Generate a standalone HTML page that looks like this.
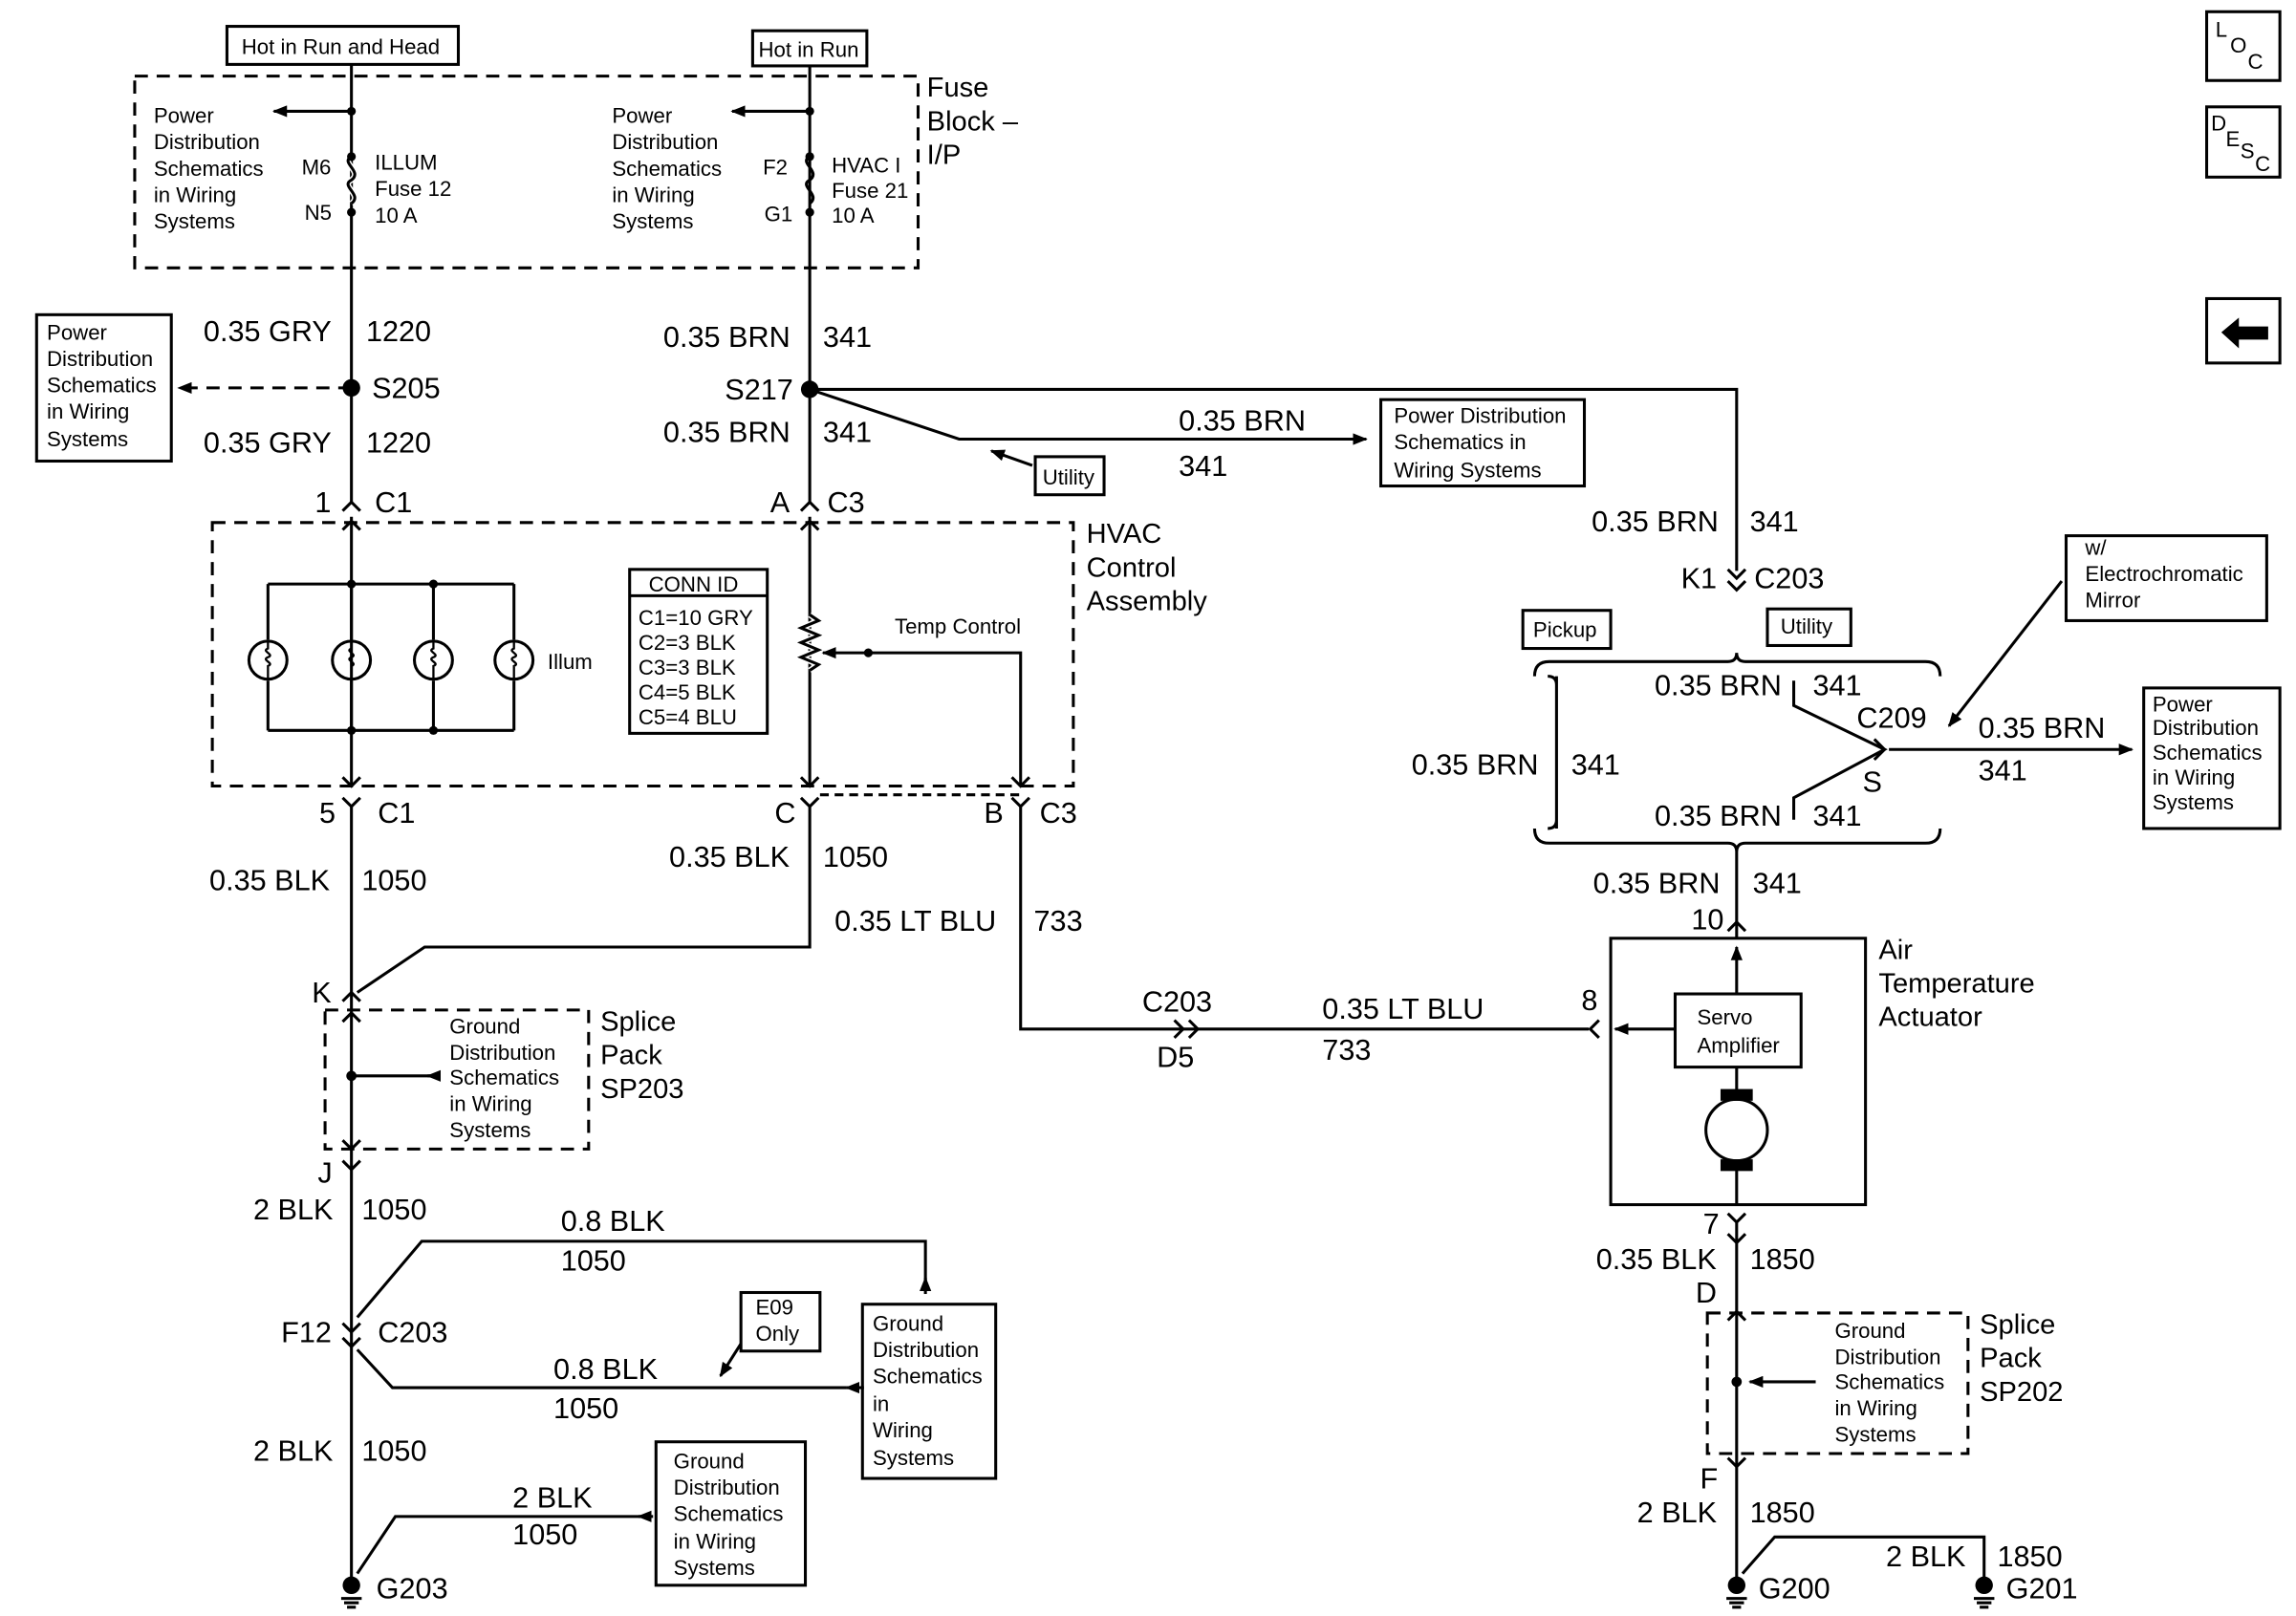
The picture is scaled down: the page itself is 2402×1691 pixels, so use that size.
<!DOCTYPE html>
<html><head><meta charset="utf-8"><style>
html,body{margin:0;padding:0;background:#fff}
svg{display:block}
text{font-family:"Liberation Sans",Arial,sans-serif;fill:#000}
.w{font-size:20px}.s{font-size:14.5px}.m{font-size:19px}
</style></head><body>
<svg width="2402" height="1691" viewBox="0 0 1568 1104" preserveAspectRatio="none" xmlns="http://www.w3.org/2000/svg">
<defs><marker id="a" markerWidth="10" markerHeight="8" refX="9" refY="4" orient="auto" markerUnits="userSpaceOnUse"><path d="M0,0 L10,4 L0,8z"/></marker></defs>
<g stroke="#000" stroke-width="2" fill="none">
<rect x="155" y="18" width="158" height="26"/><rect x="514" y="21" width="78" height="24"/>
<rect x="92" y="52" width="535" height="131" stroke-dasharray="9,6"/>
<path d="M240 44V343M553 45V343"/>
<path d="M240 76H187" marker-end="url(#a)"/>
<path d="M553 76H500" marker-end="url(#a)"/>
<path d="M240 107c-8 4 8 10 0 16c-8 4 8 10 0 16" stroke="#fff" stroke-width="4"/>
<path d="M240 107c-8 4 8 10 0 16c-8 4 8 10 0 16M553 107c-8 4 8 10 0 16c-8 4 8 10 0 16"/>
<rect x="25" y="215" width="92" height="100"/>
<path d="M240 265H122" stroke-dasharray="9,6" marker-end="url(#a)"/>
<path d="M553 266H1186V390M553 266L655 300H933" />
<path d="M655 300H933" marker-end="url(#a)"/>
<rect x="943" y="273" width="139" height="59"/>
<rect x="707" y="312" width="47" height="26"/>
<path d="M705 318L677 308" marker-end="url(#a)"/>
<rect x="145" y="357" width="588" height="180" stroke-dasharray="9,6"/>
<path d="M183 399H351M183 499H351M183 399V437M240 399V437M296 399V437M351 399V437M183 465V499M240 465V499M296 465V499M351 465V499"/>
<circle cx="183" cy="451" r="13"/><circle cx="240" cy="451" r="13"/><circle cx="296" cy="451" r="13"/><circle cx="351" cy="451" r="13"/>
<g stroke-width="1.5">
<path d="M183 438v5c-5 2 5 4 0 6c-5 2 5 4 0 6v9M240 438v5c-5 2 5 4 0 6c-5 2 5 4 0 6v9M296 438v5c-5 2 5 4 0 6c-5 2 5 4 0 6v9M351 438v5c-5 2 5 4 0 6c-5 2 5 4 0 6v9"/>
</g>
<path d="M240 353V537M553 353V537"/>
<path d="M553 420l6 4l-12 5l12 5l-12 5l12 5l-12 5l12 5l-6 4" stroke="#fff" stroke-width="4"/>
<path d="M553 420l6 4l-12 5l12 5l-12 5l12 5l-12 5l12 5l-6 4"/>
<path d="M593 446H562" marker-end="url(#a)"/>
<path d="M593 446H697V537"/>
<rect x="430" y="389" width="94" height="112"/><path d="M430 407H524"/>
<path d="M560 543H697" stroke-dasharray="6,4"/>
<path d="M234 349l6-6l6 6M234 362l6-6l6 6M547 349l6-6l6 6M547 362l6-6l6 6M234 531l6 6l6-6M234 545l6 6l6-6M547 531l6 6l6-6M547 545l6 6l6-6M691 531l6 6l6-6M691 545l6 6l6-6"/>
<path d="M240 551V1080M553 551V647H290L244 678M697 551V703H1085"/>
<path d="M802 697l6 6l-6 6M812 697l6 6l-6 6M1092 697l-6 6l6 6"/>
<path d="M234 684l6-6l6 6M234 698l6-6l6 6M234 779l6 6l6-6M234 793l6 6l6-6"/>
<rect x="222" y="690" width="180" height="95" stroke-dasharray="9,6"/>
<path d="M300 735H240"/><path d="M300 735H292" marker-end="url(#a)"/>
<circle cx="240" cy="735" r="2.5" fill="#000"/>
<path d="M234 904l6 6l6-6M234 914l6 6l6-6"/>
<path d="M244 900L288 848H632V875M244 922L268 948H578"/>
<path d="M632 884V873" marker-end="url(#a)"/>
<path d="M590 948H578" marker-end="url(#a)"/>
<rect x="589" y="891" width="91" height="119"/>
<rect x="506" y="883" width="54" height="40"/>
<path d="M506 918L492 940" marker-end="url(#a)"/>
<path d="M244 1075L270 1036H438"/>
<path d="M446 1036H436" marker-end="url(#a)"/>
<rect x="448" y="985" width="102" height="98"/>
<path d="M1180 389l6 6l6-6M1180 397l6 6l6-6"/>
<rect x="1040" y="417" width="60" height="26"/><rect x="1207" y="416" width="57" height="25"/>
<path d="M1048 462q0-10 10-10H1180q6 0 6-6q0 6 6 6H1315q10 0 10 10"/>
<path d="M1048 566q0 10 10 10H1180q6 0 6 6q0-6 6-6H1315q10 0 10-10"/>
<path d="M1063 462V566M1057 462q6 0 6 6M1057 566q6 0 6-6"/>
<path d="M1225 465V482L1287 512L1225 545V560"/>
<path d="M1280 505l7 7l-7 7M1290 512H1456" marker-end="url(#a)"/>
<rect x="1464" y="470" width="93" height="96"/>
<rect x="1411" y="366" width="137" height="58"/>
<path d="M1408 397L1331 496" marker-end="url(#a)"/>
<path d="M1186 582V641"/><path d="M1180 636l6-6l6 6"/>
<rect x="1100" y="641" width="174" height="182"/>
<rect x="1144" y="679" width="86" height="50"/>
<path d="M1186 679V647" marker-end="url(#a)"/>
<path d="M1144 703H1103" marker-end="url(#a)"/>
<path d="M1186 729V745M1186 799V823"/>
<circle cx="1186" cy="772" r="21"/>
<rect x="1176" y="745" width="20" height="6" fill="#000"/><rect x="1176" y="793" width="20" height="6" fill="#000"/>
<path d="M1180 829l6 6l6-6M1180 843l6 6l6-6M1186 835V1080"/>
<path d="M1180 902l6-6l6 6M1180 996l6 6l6-6"/>
<rect x="1166" y="897" width="178" height="96" stroke-dasharray="9,6"/>
<path d="M1240 944H1195" marker-end="url(#a)"/><circle cx="1186" cy="944" r="2.5" fill="#000"/>
<path d="M1190 1075L1212 1050H1355V1080"/>
<path d="M233 1092h14M235 1095h10M237 1098h6M1179 1092h14M1181 1095h10M1183 1098h6M1348 1092h14M1350 1095h10M1352 1098h6"/>
<rect x="1507" y="8" width="50" height="47"/><rect x="1507" y="73" width="50" height="48"/><rect x="1507" y="204" width="50" height="44"/>
</g>
<g fill="#000">
<circle cx="240" cy="76" r="3"/><circle cx="553" cy="76" r="3"/>
<circle cx="240" cy="107" r="3"/><circle cx="240" cy="145" r="3"/><circle cx="553" cy="107" r="3"/><circle cx="553" cy="145" r="3"/>
<circle cx="240" cy="265" r="6"/><circle cx="553" cy="266" r="6"/>
<circle cx="240" cy="399" r="3"/><circle cx="296" cy="399" r="3"/><circle cx="240" cy="499" r="3"/><circle cx="296" cy="499" r="3"/><circle cx="593" cy="446" r="3"/>
<circle cx="240" cy="1083" r="6"/><circle cx="1186" cy="1083" r="6"/><circle cx="1355" cy="1083" r="6"/>
<path d="M1517 227l12-10v6h20v9h-20v6z"/>
</g>
<text x="165" y="37" class="s">Hot in Run and Head</text>
<text x="518" y="39" class="s">Hot in Run</text>
<g class="s"><text x="105" y="84">Power</text><text x="105" y="102">Distribution</text><text x="105" y="120">Schematics</text><text x="105" y="138">in Wiring</text><text x="105" y="156">Systems</text>
<text x="418" y="84">Power</text><text x="418" y="102">Distribution</text><text x="418" y="120">Schematics</text><text x="418" y="138">in Wiring</text><text x="418" y="156">Systems</text>
<text x="206" y="119">M6</text><text x="208" y="150">N5</text><text x="256" y="116">ILLUM</text><text x="256" y="134">Fuse 12</text><text x="256" y="152">10 A</text>
<text x="521" y="119">F2</text><text x="522" y="151">G1</text><text x="568" y="118">HVAC I</text><text x="568" y="135">Fuse 21</text><text x="568" y="152">10 A</text>
<text x="32" y="232">Power</text><text x="32" y="250">Distribution</text><text x="32" y="268">Schematics</text><text x="32" y="286">in Wiring</text><text x="32" y="305">Systems</text>
<text x="952" y="289">Power Distribution</text><text x="952" y="307">Schematics in</text><text x="952" y="326">Wiring Systems</text>
<text x="712" y="331">Utility</text><text x="374" y="457">Illum</text><text x="611" y="433">Temp Control</text>
<text x="443" y="404">CONN ID</text><text x="436" y="427">C1=10 GRY</text><text x="436" y="444">C2=3 BLK</text><text x="436" y="461">C3=3 BLK</text><text x="436" y="478">C4=5 BLK</text><text x="436" y="495">C5=4 BLU</text>
<text x="307" y="706">Ground</text><text x="307" y="724">Distribution</text><text x="307" y="741">Schematics</text><text x="307" y="759">in Wiring</text><text x="307" y="777">Systems</text>
<text x="516" y="898">E09</text><text x="516" y="916">Only</text>
<text x="596" y="909">Ground</text><text x="596" y="927">Distribution</text><text x="596" y="945">Schematics</text><text x="596" y="964">in</text><text x="596" y="982">Wiring</text><text x="596" y="1001">Systems</text>
<text x="460" y="1003">Ground</text><text x="460" y="1021">Distribution</text><text x="460" y="1039">Schematics</text><text x="460" y="1058">in Wiring</text><text x="460" y="1076">Systems</text>
<text x="1047" y="435">Pickup</text><text x="1216" y="433">Utility</text>
<text x="1424" y="379">w/</text><text x="1424" y="397">Electrochromatic</text><text x="1424" y="415">Mirror</text>
<text x="1470" y="486">Power</text><text x="1470" y="502">Distribution</text><text x="1470" y="519">Schematics</text><text x="1470" y="536">in Wiring</text><text x="1470" y="553">Systems</text>
<text x="1159" y="700">Servo</text><text x="1159" y="719">Amplifier</text>
<text x="1253" y="914">Ground</text><text x="1253" y="932">Distribution</text><text x="1253" y="949">Schematics</text><text x="1253" y="967">in Wiring</text><text x="1253" y="985">Systems</text>
<text x="1513" y="25">L</text><text x="1523" y="36">O</text><text x="1535" y="47">C</text>
<text x="1510" y="89">D</text><text x="1520" y="100">E</text><text x="1530" y="108">S</text><text x="1540" y="117">C</text>
</g>
<g class="m"><text x="633" y="66">Fuse</text><text x="633" y="89">Block –</text><text x="633" y="112">I/P</text>
<text x="742" y="371">HVAC</text><text x="742" y="394">Control</text><text x="742" y="417">Assembly</text>
<text x="410" y="704">Splice</text><text x="410" y="727">Pack</text><text x="410" y="750">SP203</text>
<text x="1283" y="655">Air</text><text x="1283" y="678">Temperature</text><text x="1283" y="701">Actuator</text>
<text x="1352" y="911">Splice</text><text x="1352" y="934">Pack</text><text x="1352" y="957">SP202</text>
</g>
<g class="w">
<text x="139" y="233">0.35 GRY</text><text x="250" y="233">1220</text><text x="254" y="272">S205</text>
<text x="139" y="309">0.35 GRY</text><text x="250" y="309">1220</text>
<text x="453" y="237">0.35 BRN</text><text x="562" y="237">341</text><text x="495" y="273">S217</text>
<text x="453" y="302">0.35 BRN</text><text x="562" y="302">341</text>
<text x="805" y="294">0.35 BRN</text><text x="805" y="325">341</text>
<text x="215" y="350">1</text><text x="256" y="350">C1</text><text x="526" y="350">A</text><text x="565" y="350">C3</text>
<text x="218" y="562">5</text><text x="258" y="562">C1</text><text x="529" y="562">C</text><text x="672" y="562">B</text><text x="710" y="562">C3</text>
<text x="143" y="608">0.35 BLK</text><text x="247" y="608">1050</text>
<text x="457" y="592">0.35 BLK</text><text x="562" y="592">1050</text>
<text x="570" y="636">0.35 LT BLU</text><text x="706" y="636">733</text>
<text x="780" y="691">C203</text><text x="790" y="729">D5</text>
<text x="903" y="696">0.35 LT BLU</text><text x="903" y="724">733</text><text x="1080" y="690">8</text>
<text x="213" y="685">K</text><text x="217" y="808">J</text>
<text x="173" y="833">2 BLK</text><text x="247" y="833">1050</text>
<text x="383" y="841">0.8 BLK</text><text x="383" y="868">1050</text>
<text x="192" y="917">F12</text><text x="258" y="917">C203</text>
<text x="378" y="942">0.8 BLK</text><text x="378" y="969">1050</text>
<text x="173" y="998">2 BLK</text><text x="247" y="998">1050</text>
<text x="350" y="1030">2 BLK</text><text x="350" y="1055">1050</text><text x="257" y="1092">G203</text>
<text x="1087" y="363">0.35 BRN</text><text x="1195" y="363">341</text>
<text x="1148" y="402">K1</text><text x="1198" y="402">C203</text>
<text x="1130" y="475">0.35 BRN</text><text x="1238" y="475">341</text>
<text x="964" y="529">0.35 BRN</text><text x="1073" y="529">341</text>
<text x="1130" y="564">0.35 BRN</text><text x="1238" y="564">341</text>
<text x="1268" y="497">C209</text><text x="1272" y="541">S</text>
<text x="1351" y="504">0.35 BRN</text><text x="1351" y="533">341</text>
<text x="1088" y="610">0.35 BRN</text><text x="1197" y="610">341</text><text x="1155" y="635">10</text>
<text x="1163" y="843">7</text><text x="1090" y="867">0.35 BLK</text><text x="1195" y="867">1850</text><text x="1158" y="890">D</text>
<text x="1161" y="1017">F</text><text x="1118" y="1040">2 BLK</text><text x="1195" y="1040">1850</text>
<text x="1288" y="1070">2 BLK</text><text x="1364" y="1070">1850</text>
<text x="1201" y="1092">G200</text><text x="1370" y="1092">G201</text>
</g>
</svg>
</body></html>
